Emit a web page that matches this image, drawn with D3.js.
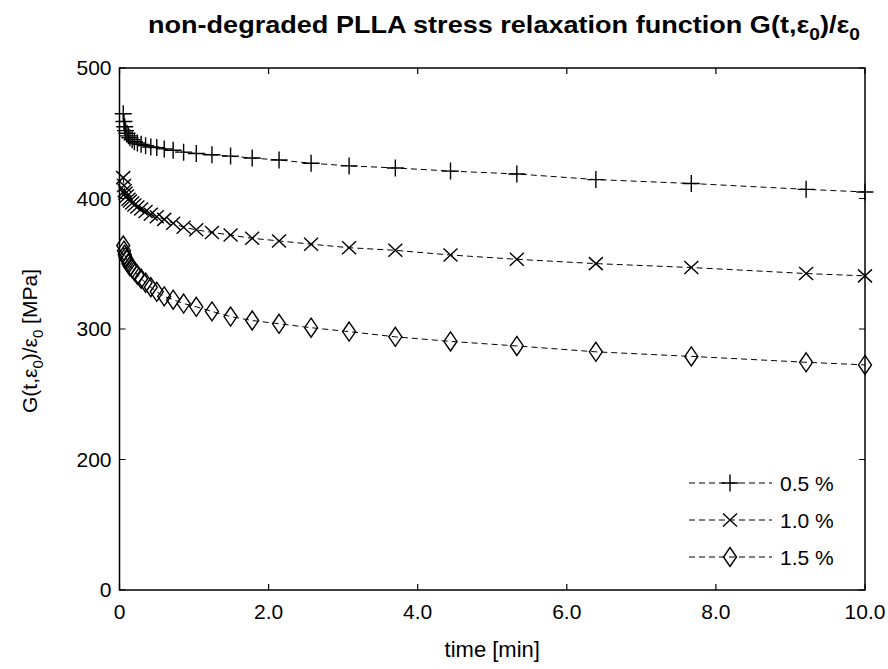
<!DOCTYPE html>
<html>
<head>
<meta charset="utf-8">
<script src="https://cdn.jsdelivr.net/npm/d3@7"></script>
<style>
body { margin: 0; background: #fff; }
text { font-family: Arial, "Liberation Sans", sans-serif; fill: #000; }
.frame { fill: none; stroke: #000; stroke-width: 1.5; }
.tick-mark { stroke: #000; stroke-width: 1.2; }
.curve { fill: none; stroke: #000; stroke-width: 1; stroke-dasharray: 6, 4; }
.marker { fill: none; stroke: #000; stroke-width: 1.4; }
</style>
</head>
<body>
<div id="chart"></div>
<script>
// time in minutes (log spaced sampling)
var times = [0.05, 0.06, 0.07, 0.08, 0.10, 0.12, 0.14, 0.17, 0.20, 0.24, 0.29, 0.35, 0.42, 0.50, 0.60,
             0.72, 0.86, 1.03, 1.24, 1.49, 1.78, 2.14, 2.57, 3.08, 3.70, 4.44, 5.33, 6.39, 7.67, 9.21, 10.0],
    // G(t,e0)/e0 in MPa
    strain05 = [465, 459, 455, 452, 450, 448, 446.5, 445, 443.5, 442.5, 441.5, 440.5, 439.5, 439, 438,
                437, 435.5, 434.5, 433.5, 432.5, 431, 429.5, 427, 425, 423.4, 421, 418.8, 414.5, 411.5, 407, 405],
    strain10 = [416, 410, 406, 404, 402, 399.5, 398, 396.5, 395, 393.5, 392, 390, 388, 386, 384,
                381, 378, 376, 374, 372, 369.5, 367.5, 365, 362.3, 360.3, 356.7, 353.4, 350.1, 347.1, 342.5, 340.7],
    strain15 = [364, 360, 357, 355, 353, 350, 348, 346.5, 344.5, 341.5, 338.5, 335.5, 332, 328.5, 325,
                322.5, 319.5, 317, 313.5, 309.5, 306.5, 304, 301, 298, 294, 290.5, 287, 282.5, 279, 274.5, 272.5],
    seriesNames = ["0.5 %", "1.0 %", "1.5 %"],
    markerTypes = ["plus", "cross", "diamond"],
    xTicks = [0, 2, 4, 6, 8, 10],
    xTickLabels = ["0", "2.0", "4.0", "6.0", "8.0", "10.0"],
    yTicks = [100, 200, 300, 400, 500],
    yTickLabels = ["0", "200", "300", "400", "500"];

var series = [strain05, strain10, strain15];

var widthGlobal = 888,
    heightGlobal = 669,
    margin = {top: 68, right: 23, bottom: 79, left: 119.5},
    width = widthGlobal - margin.left - margin.right,
    height = heightGlobal - margin.top - margin.bottom;

var x = d3.scaleLinear().domain([0, 10]).range([0, width]),
    y = d3.scaleLinear().domain([100, 500]).range([height, 0]);

var svg = d3.select("#chart").append("svg")
    .attr("width", widthGlobal)
    .attr("height", heightGlobal);

var g = svg.append("g")
    .attr("transform", "translate(" + margin.left + "," + margin.top + ")");

// marker shapes
function markerPath(type) {
    if (type == "plus") { return "M-8.5,0H8.5M0,-8.5V8.5"; }
    if (type == "cross") { return "M-7,-6.5L7,6.5M-7,6.5L7,-6.5"; }
    return "M0,-9.5L6.5,0L0,9.5L-6.5,0Z";
}

// ticks, inward, on all four sides
var tl = 6;
g.append("g").selectAll(".xt")
    .data(xTicks)
    .enter().append("path")
    .attr("class", "tick-mark")
    .attr("d", function (d) { return "M" + x(d) + "," + height + "v" + (-tl) + "M" + x(d) + ",0v" + tl; });
g.append("g").selectAll(".yt")
    .data(yTicks)
    .enter().append("path")
    .attr("class", "tick-mark")
    .attr("d", function (d) { return "M0," + y(d) + "h" + tl + "M" + width + "," + y(d) + "h" + (-tl); });

g.append("rect")
    .attr("class", "frame")
    .attr("width", width)
    .attr("height", height);

g.append("g").selectAll(".xl")
    .data(xTicks)
    .enter().append("text")
    .attr("x", function (d) { return x(d); })
    .attr("y", height + 29)
    .attr("text-anchor", "middle")
    .style("font-size", "21px")
    .text(function (d, i) { return xTickLabels[i]; });
g.append("g").selectAll(".yl")
    .data(yTicks)
    .enter().append("text")
    .attr("x", -8)
    .attr("y", function (d) { return y(d) + 7; })
    .attr("text-anchor", "end")
    .style("font-size", "21px")
    .text(function (d, i) { return yTickLabels[i]; });

// curves
var line = d3.line()
    .x(function (d, i) { return x(times[i]); })
    .y(function (d) { return y(d); });

series.forEach(function (s, k) {
    g.append("path")
        .datum(s)
        .attr("class", "curve")
        .attr("d", line);
    g.append("g").selectAll(".m")
        .data(s)
        .enter().append("path")
        .attr("class", "marker")
        .attr("transform", function (d, i) { return "translate(" + x(times[i]) + "," + y(d) + ")"; })
        .attr("d", markerPath(markerTypes[k]));
});

// legend
var legend = g.append("g").selectAll(".legend")
    .data(seriesNames)
    .enter().append("g")
    .attr("transform", function (d, i) { return "translate(" + (689 - margin.left) + "," + (483 - margin.top + i * 37) + ")"; });
legend.append("path")
    .attr("class", "curve")
    .attr("d", "M0,0H83");
legend.append("path")
    .attr("class", "marker")
    .attr("transform", "translate(41,0)")
    .attr("d", function (d, i) { return markerPath(markerTypes[i]); });
legend.append("text")
    .attr("x", 91)
    .attr("y", 7.5)
    .style("font-size", "21px")
    .text(function (d) { return d; });

// title
var title = svg.append("text")
    .attr("x", 148)
    .attr("y", 33)
    .attr("textLength", 712)
    .attr("lengthAdjust", "spacingAndGlyphs")
    .style("font-size", "24px")
    .style("font-weight", "bold");
title.append("tspan").text("non-degraded PLLA stress relaxation function G(t,ε");
title.append("tspan").attr("dy", 7).style("font-size", "17px").text("0");
title.append("tspan").attr("dy", -7).text(")/ε");
title.append("tspan").attr("dy", 7).style("font-size", "17px").text("0");

// axis titles
svg.append("text")
    .attr("x", margin.left + width / 2)
    .attr("y", 657)
    .attr("text-anchor", "middle")
    .style("font-size", "22px")
    .text("time [min]");

var ylab = svg.append("text")
    .attr("transform", "translate(37," + (margin.top + height / 2 + 12) + ") rotate(-90)")
    .attr("text-anchor", "middle")
    .style("font-size", "21px");
ylab.append("tspan").text("G(t,ε");
ylab.append("tspan").attr("dy", 6).style("font-size", "15px").text("0");
ylab.append("tspan").attr("dy", -6).text(")/ε");
ylab.append("tspan").attr("dy", 6).style("font-size", "15px").text("0");
ylab.append("tspan").attr("dy", -6).text(" [MPa]");
</script>
</body>
</html>
